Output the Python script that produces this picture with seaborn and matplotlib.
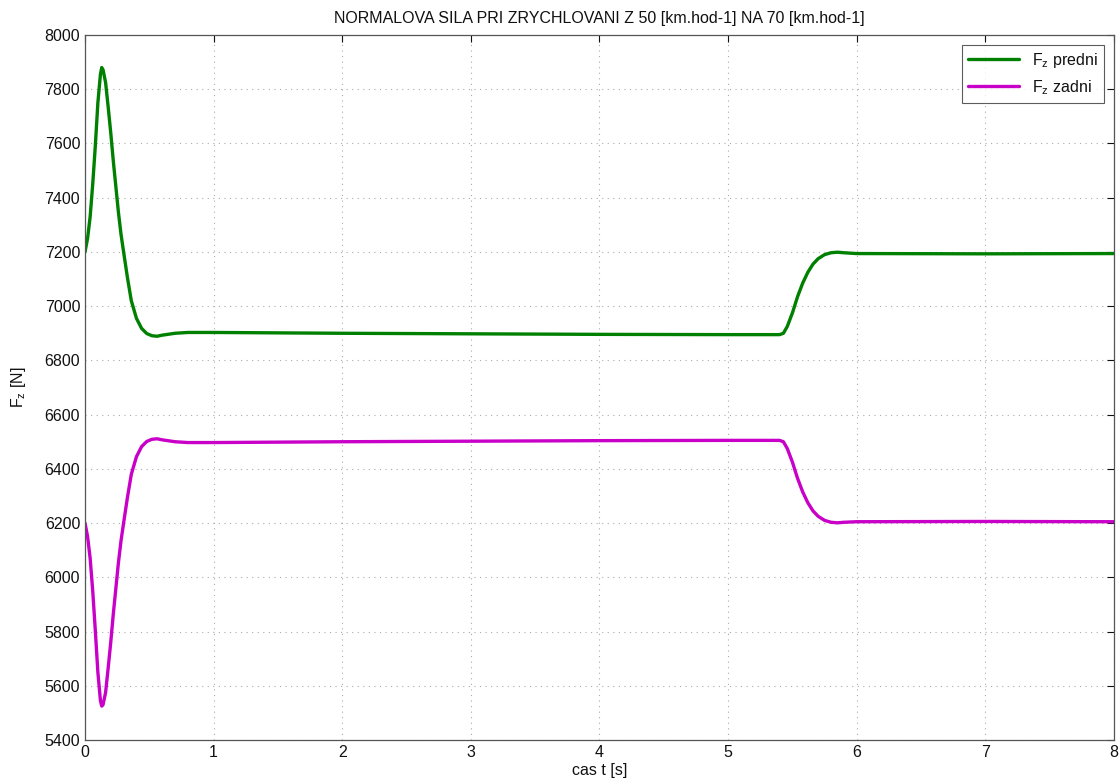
#!/usr/bin/env python3
"""Normal force on front/rear axle while accelerating from 50 to 70 km/h."""

import matplotlib

matplotlib.use("Agg")

import matplotlib.pyplot as plt
import pandas as pd
import seaborn as sns

# time [s]
cas = [0, 0.02, 0.04, 0.06, 0.08, 0.10, 0.12, 0.13, 0.14, 0.16, 0.18, 0.20,
       0.22, 0.24, 0.26, 0.28, 0.30, 0.33, 0.36, 0.40, 0.44, 0.48, 0.52, 0.56,
       0.60, 0.70, 0.80, 1.0, 2.0, 3.0, 4.0, 5.0, 5.40, 5.43, 5.46, 5.50, 5.54,
       5.58, 5.62, 5.66, 5.70, 5.75, 5.80, 5.85, 5.90, 6.0, 7.0, 8.0]

fz_predni = [7200, 7250, 7330, 7450, 7590, 7750, 7855, 7880, 7872, 7825, 7735,
             7640, 7535, 7440, 7345, 7265, 7200, 7105, 7020, 6955, 6918, 6899,
             6891, 6889, 6893, 6900, 6903, 6903, 6900, 6898, 6896, 6895, 6895,
             6900, 6925, 6975, 7035, 7085, 7125, 7155, 7175, 7190, 7197, 7199,
             7197, 7194, 7193, 7194]

fz_zadni = [6200, 6150, 6070, 5950, 5805, 5650, 5545, 5525, 5530, 5575, 5665,
            5760, 5865, 5960, 6055, 6135, 6200, 6295, 6380, 6445, 6482, 6501,
            6509, 6511, 6507, 6500, 6497, 6497, 6500, 6502, 6504, 6505, 6505,
            6500, 6475, 6425, 6365, 6315, 6275, 6245, 6225, 6210, 6203, 6201,
            6203, 6205, 6206, 6205]

labels = ["F$_\\mathregular{z}$ predni", "F$_\\mathregular{z}$ zadni"]
colors = ["#008000", "#C800C8"]


def main() -> int:
    sns.set_theme(style="white")
    plt.rcParams["font.family"] = ["Liberation Sans", "DejaVu Sans"]
    plt.rcParams["mathtext.fontset"] = "custom"
    plt.rcParams["mathtext.rm"] = "Liberation Sans"
    plt.rcParams["text.color"] = "#111111"
    plt.rcParams["axes.labelcolor"] = "#111111"

    df = pd.concat(
        [
            pd.DataFrame({"t": cas, "F": fz_predni, "serie": labels[0]}),
            pd.DataFrame({"t": cas, "F": fz_zadni, "serie": labels[1]}),
        ],
        ignore_index=True,
    )

    fig = plt.figure(figsize=(11.2, 7.83), dpi=100)
    ax = fig.add_axes([0.0759, 0.0549, 0.9187, 0.9004])
    sns.lineplot(
        data=df, x="t", y="F", hue="serie", palette=colors,
        linewidth=2.4, ax=ax, sort=False, estimator=None,
    )

    ax.set_xlim(0, 8)
    ax.set_ylim(5400, 8000)
    ax.set_xticks(range(0, 9))
    ax.set_yticks(range(5400, 8001, 200))
    ax.grid(True, linestyle=(0, (1, 4)), color="#aaaaaa", linewidth=0.8)
    ax.tick_params(direction="in", length=5, top=True, right=True,
                   labelsize=11.5, colors="#111111", width=0.8)
    for spine in ax.spines.values():
        spine.set_color("#555555")
        spine.set_linewidth(0.9)

    ax.set_title("NORMALOVA SILA PRI ZRYCHLOVANI Z 50 [km.hod-1] NA 70 [km.hod-1]",
                 fontsize=11.5, pad=9)
    ax.set_xlabel("cas t [s]", fontsize=11.5, labelpad=2)
    ax.set_ylabel("F$_\\mathregular{z}$ [N]", fontsize=11.5, labelpad=12)

    leg = ax.legend(loc="upper right", fontsize=11.5, frameon=True, fancybox=False,
                    handlelength=3.2, borderaxespad=0.6, title=None)
    leg.get_frame().set_edgecolor("#333333")
    leg.get_frame().set_linewidth(0.8)

    fig.savefig("out.png", dpi=100)
    plt.close(fig)
    return 0


if __name__ == "__main__":
    raise SystemExit(main())
